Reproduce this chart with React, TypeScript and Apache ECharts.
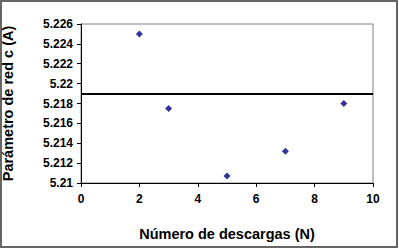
import React, { useEffect, useRef } from "react";
import * as echarts from "echarts";

const descargas = [2, 3, 5, 7, 9];
const parametroC = [5.225, 5.2175, 5.2107, 5.2132, 5.218];
const referencia = 5.219;
const xTicks = { min: 0, max: 10, interval: 2 };
const yTicks = { min: 5.21, max: 5.226, interval: 0.002 };

export default function App() {
  const ref = useRef<HTMLDivElement>(null);
  useEffect(() => {
    if (!ref.current) return;
    const chart = echarts.init(ref.current, null, { renderer: "svg" });
    const font = "'Liberation Sans', Arial, sans-serif";
    chart.setOption({
      animation: false,
      backgroundColor: "#ffffff",
      graphic: [
        {
          type: "rect",
          shape: { x: 1, y: 1, width: 396, height: 246 },
          style: { fill: "none", stroke: "#666666", lineWidth: 2 },
          silent: true,
        },
      ],
      grid: {
        left: 81,
        top: 24,
        right: 26,
        bottom: 66,
        containLabel: false,
        outerBoundsMode: "none",
        show: true,
        borderColor: "#808080",
        borderWidth: 1,
        backgroundColor: "#ffffff",
      },
      xAxis: {
        type: "value",
        min: xTicks.min,
        max: xTicks.max,
        interval: xTicks.interval,
        name: "Número de descargas (N)",
        nameLocation: "middle",
        nameGap: 43,
        nameTextStyle: { fontFamily: font, fontWeight: "bold", fontSize: 14.5, color: "#000" },
        axisLine: { onZero: false, lineStyle: { color: "#000", width: 1 } },
        axisTick: { show: true, length: 4, lineStyle: { color: "#000" } },
        axisLabel: { fontFamily: font, fontWeight: "bold", fontSize: 12, color: "#000", margin: 10 },
        splitLine: { show: false },
      },
      yAxis: {
        type: "value",
        min: yTicks.min,
        max: yTicks.max,
        interval: yTicks.interval,
        name: "Parámetro de red c (A)",
        nameLocation: "middle",
        nameGap: 66,
        nameRotate: 90,
        nameTextStyle: { fontFamily: font, fontWeight: "bold", fontSize: 14.5, color: "#000" },
        axisLine: { show: true, onZero: false, lineStyle: { color: "#000", width: 1 } },
        axisTick: { show: true, length: 4, lineStyle: { color: "#000" } },
        axisLabel: {
          fontFamily: font,
          fontWeight: "bold",
          fontSize: 12,
          color: "#000",
          margin: 8,
          formatter: (v: number) => String(+v.toFixed(3)),
        },
        splitLine: { show: false },
      },
      series: [
        {
          type: "scatter",
          data: descargas.map((x, i) => [x, parametroC[i]]),
          symbol: "diamond",
          symbolSize: 7,
          itemStyle: { color: "#000080" },
          markLine: {
            silent: true,
            symbol: "none",
            precision: 4,
            label: { show: false },
            lineStyle: { color: "#000", width: 2, type: "solid" },
            data: [{ yAxis: referencia }],
          },
        },
      ],
    });
    return () => chart.dispose();
  }, []);
  return (
    <div
      ref={ref}
      style={{ position: "fixed", left: 0, top: 0, width: 399, height: 249 }}
    />
  );
}
